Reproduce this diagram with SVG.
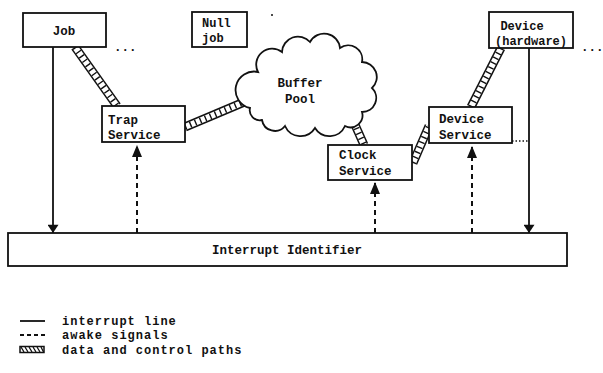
<svg xmlns="http://www.w3.org/2000/svg" width="603" height="373" viewBox="0 0 603 373">
<defs>
<style>
text{font-family:"Liberation Mono","DejaVu Sans Mono",monospace;font-weight:bold;font-size:12.5px;fill:#111}
.sm{font-size:12px}
.lg{font-size:12px;letter-spacing:1px}
.box{fill:#fff;stroke:#111;stroke-width:1.8}
.solid{stroke:#111;stroke-width:1.8;fill:none}
.dash{stroke:#111;stroke-width:2;fill:none;stroke-dasharray:5 4}
.dot{stroke:#111;stroke-width:1.5;fill:none;stroke-dasharray:1.5 2}
.bo{stroke:#111;stroke-width:9;fill:none}
.bi{stroke:#fff;stroke-width:6;fill:none}
.bh{stroke:#111;stroke-width:6;fill:none;stroke-dasharray:1.4 4}
.mid{text-anchor:middle}
</style>
<marker id="ah" viewBox="0 0 12 16" refX="12" refY="8" markerWidth="16" markerHeight="11" markerUnits="userSpaceOnUse" orient="auto">
<path d="M0,0 L12,8 L0,16 Z" fill="#111"/>
</marker>
<marker id="ahd" viewBox="0 0 12 10" refX="12" refY="5" markerWidth="13" markerHeight="10" markerUnits="userSpaceOnUse" orient="auto">
<path d="M0,0 L12,5 L0,10 Z" fill="#111"/>
</marker>
</defs>

<g id="connectors">
<g id="path-job-trap"><line class="bo" x1="75" y1="47" x2="117" y2="106"/><line class="bi" x1="75" y1="47" x2="117" y2="106"/><line class="bh" x1="75" y1="47" x2="117" y2="106"/></g>
<g id="path-trap-pool"><line class="bo" x1="185" y1="127" x2="249" y2="100"/><line class="bi" x1="185" y1="127" x2="249" y2="100"/><line class="bh" x1="185" y1="127" x2="249" y2="100"/></g>
<g id="path-pool-clock"><line class="bo" x1="352" y1="118" x2="364" y2="145"/><line class="bi" x1="352" y1="118" x2="364" y2="145"/><line class="bh" x1="352" y1="118" x2="364" y2="145"/></g>
<g id="path-clock-devsvc"><line class="bo" x1="413" y1="163" x2="429" y2="126"/><line class="bi" x1="413" y1="163" x2="429" y2="126"/><line class="bh" x1="413" y1="163" x2="429" y2="126"/></g>
<g id="path-devsvc-dev"><line class="bo" x1="471" y1="107" x2="501" y2="48"/><line class="bi" x1="471" y1="107" x2="501" y2="48"/><line class="bh" x1="471" y1="107" x2="501" y2="48"/></g>
<line class="solid" x1="53" y1="47" x2="53" y2="233" marker-end="url(#ah)"/>
<line class="solid" x1="529" y1="48" x2="529" y2="233" marker-end="url(#ah)"/>
<line class="dash" x1="137" y1="233" x2="137" y2="145" marker-end="url(#ahd)"/>
<line class="dash" x1="375" y1="233" x2="375" y2="182" marker-end="url(#ahd)"/>
<line class="dash" x1="472" y1="233" x2="472" y2="146" marker-end="url(#ahd)"/>
<line class="dot" x1="512" y1="141" x2="529" y2="141"/>
</g>

<g id="job"><rect class="box" x="23" y="13" width="83" height="34"/><text class="mid" x="64" y="35">Job</text></g>
<text x="114" y="51">...</text>
<g id="nulljob"><rect class="box" x="192" y="12" width="55" height="35"/><text class="sm" x="202" y="27">Null</text><text class="sm" x="202" y="42">job</text></g>
<circle cx="272" cy="15" r="1" fill="#111"/>

<g id="bufferpool">
<path class="box" d="M250,108 A18,18 0 0 1 258,72 A16,16 0 0 1 282,52 A16,16 0 0 1 310,42 A16,16 0 0 1 340,48 A14,14 0 0 1 362,62 A15,15 0 0 1 372,88 A14,14 0 0 1 362,112 A12,12 0 0 1 345,126 A17,17 0 0 1 315,128 A17,17 0 0 1 285,126 A13,13 0 0 1 262,120 A10,10 0 0 1 250,108 Z"/>
<text class="mid" x="300" y="87">Buffer</text><text class="mid" x="300" y="103">Pool</text>
</g>

<g id="trap"><rect class="box" x="102" y="106" width="83" height="36"/><text x="108" y="124">Trap</text><text x="108" y="139">Service</text></g>
<g id="clock"><rect class="box" x="328" y="145" width="84" height="35"/><text x="339" y="159">Clock</text><text x="339" y="175">Service</text></g>
<g id="devsvc"><rect class="box" x="429" y="107" width="83" height="36"/><text x="439" y="123">Device</text><text x="439" y="139">Service</text></g>
<g id="device"><rect class="box" x="489" y="12" width="84" height="36"/><text class="sm mid" x="522" y="30">Device</text><text class="sm mid" x="531" y="45">(hardware)</text></g>
<text x="581" y="51">...</text>

<g id="interrupt"><rect class="box" x="8" y="233" width="559" height="33" stroke-width="2"/><text class="mid" x="287" y="254">Interrupt Identifier</text></g>

<g id="legend">
<line class="solid" x1="20" y1="321" x2="45" y2="321"/>
<text class="lg" x="62" y="325">interrupt line</text>
<line class="dash" x1="20" y1="335" x2="46" y2="335" style="stroke-dasharray:4 3"/>
<text class="lg" x="62" y="339">awake signals</text>
<rect x="20" y="346.5" width="24" height="6" fill="#fff" stroke="#111" stroke-width="1.5"/>
<path d="M21,347 l3,5 M25,347 l3,5 M29,347 l3,5 M33,347 l3,5 M37,347 l3,5 M41,347 l2.5,5" stroke="#111" stroke-width="1.3"/>
<text class="lg" x="62" y="354">data and control paths</text>
</g>
</svg>
